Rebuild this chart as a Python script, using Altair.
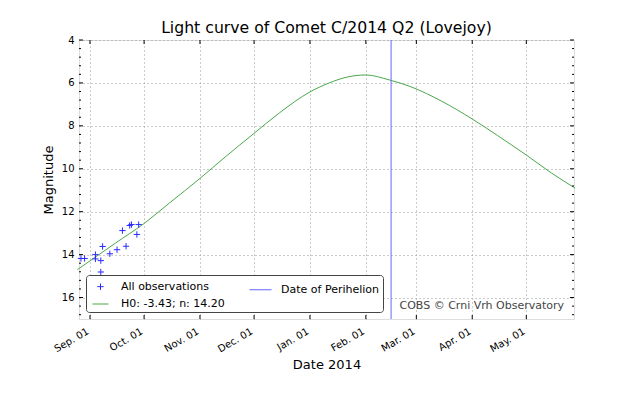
import altair as alt
import pandas as pd

FONT = "DejaVu Sans"

# Observations (date, magnitude)
obs_dates = ["2014-08-27", "2014-08-29", "2014-09-04", "2014-09-04", "2014-09-07",
             "2014-09-07", "2014-09-08", "2014-09-12", "2014-09-16", "2014-09-19",
             "2014-09-21", "2014-09-23", "2014-09-24", "2014-09-27", "2014-09-28"]
obs_mags = [14.18, 14.18, 14.00, 14.20, 14.28,
            14.81, 13.62, 13.96, 13.77, 12.88,
            13.61, 12.64, 12.60, 13.06, 12.60]

# Fitted light curve
curve_dates = ["2014-08-25", "2014-09-15", "2014-10-01", "2014-10-15", "2014-11-01",
               "2014-11-15", "2014-12-01", "2014-12-15", "2015-01-01", "2015-01-12",
               "2015-01-21", "2015-02-01", "2015-02-14", "2015-02-26", "2015-03-15",
               "2015-04-01", "2015-04-15", "2015-05-01", "2015-05-15", "2015-05-28"]
curve_mags = [14.70, 13.47, 12.55, 11.60, 10.45,
              9.45, 8.35, 7.40, 6.42, 5.99,
              5.74, 5.63, 5.86, 6.18, 6.85,
              7.68, 8.45, 9.36, 10.20, 10.90]

perihelion_date = ["2015-02-15"]

series_names = ["All observations", "H0: -3.43; n: 14.20", "Date of Perihelion"]
series_colors = ["#2a2aff", "#4aa84a", "#6666ff"]

month_ticks = ["2014-09-01", "2014-10-01", "2014-11-01", "2014-12-01", "2015-01-01",
               "2015-02-01", "2015-03-01", "2015-04-01", "2015-05-01"]
mag_major = [4, 6, 8, 10, 12, 14, 16]
mag_minor = [4.4, 4.8, 5.2, 5.6, 6.4, 6.8, 7.2, 7.6, 8.4, 8.8, 9.2, 9.6,
             10.4, 10.8, 11.2, 11.6, 12.4, 12.8, 13.2, 13.6, 14.4, 14.8,
             15.2, 15.6, 16.4, 16.8]

W, H = 495, 279


def t(s):
    return s + "T00:00:00"


obs_df = pd.DataFrame({"date": [t(d) for d in obs_dates], "mag": obs_mags,
                       "series": ["All observations"] * len(obs_dates)})
curve_df = pd.DataFrame({"date": [t(d) for d in curve_dates], "mag": curve_mags})
peri_df = pd.DataFrame({"date": [t(d) for d in perihelion_date]})
month_df = pd.DataFrame({"date": [t(d) for d in month_ticks]})
major_df = pd.DataFrame({"mag": mag_major})
minor_df = pd.DataFrame({"mag": mag_minor})

x_scale = alt.Scale(domain=[alt.DateTime(year=2014, month=8, date=25, hours=21, minutes=36),
                            alt.DateTime(year=2015, month=5, date=27, hours=10, minutes=48)])
y_scale = alt.Scale(domain=[4, 17], reverse=True, nice=False, zero=False)

x_axis = alt.Axis(
    values=[alt.DateTime(year=int(d[:4]), month=int(d[5:7]), date=1) for d in month_ticks],
    format="%b. %d", labelAngle=-30, labelAlign="right", labelBaseline="top",
    labelPadding=7, labelOffset=-5, labelFont=FONT, labelFontSize=10, labelColor="black",
    ticks=False, domain=False, grid=True, gridDash=[1, 3], gridColor="#999999",
    gridWidth=1, title="Date 2014", titleFont=FONT, titleFontSize=13,
    titleFontWeight="normal", titleColor="black", titleY=45, titleBaseline="middle",
    labelFlush=False, labelOverlap=False,
)
y_axis = alt.Axis(
    values=mag_major, labelFont=FONT, labelFontSize=10, labelColor="black",
    labelPadding=5, ticks=False, domain=False, grid=True, gridDash=[1, 3],
    gridColor="#999999", gridWidth=1, title="Magnitude", titleFont=FONT,
    titleFontSize=13, titleFontWeight="normal", titleColor="black",
    titleX=-31, titleY=H / 2, titleAngle=-90, titleBaseline="middle", titleAlign="center",
    labelFlush=False,
)

X = alt.X("date:T", scale=x_scale, axis=x_axis)
Y = alt.Y("mag:Q", scale=y_scale, axis=y_axis)

legend = alt.Legend(
    title=None, orient="bottom-left", offset=7, columns=2, padding=3,
    strokeColor="#444444", fillColor="white", cornerRadius=3,
    labelFont=FONT, labelFontSize=11, labelColor="black", labelOffset=9,
    columnPadding=22, rowPadding=-2, symbolStrokeWidth=1,
)

cross_path = "M-1,0H1M0,-1V1"
line_path = "M-1,0H1"

obs = alt.Chart(obs_df).mark_point(filled=False, strokeWidth=1, opacity=1).encode(
    x=X, y=Y,
    color=alt.Color("series:N", scale=alt.Scale(domain=series_names, range=series_colors), legend=legend),
    shape=alt.Shape("series:N", scale=alt.Scale(domain=series_names, range=[cross_path, line_path, line_path]), legend=legend),
    size=alt.Size("series:N", scale=alt.Scale(domain=series_names, range=[40, 484, 484]), legend=legend),
)

curve = alt.Chart(curve_df).mark_line(color="#4aa84a", strokeWidth=1, interpolate="monotone").encode(
    x="date:T", y="mag:Q")

peri = alt.Chart(peri_df).mark_rule(color="#6666ff", strokeWidth=1).encode(x="date:T")

bottom_ticks = alt.Chart(month_df).mark_rule(color="black").encode(
    x="date:T", y=alt.value(H), y2=alt.value(H - 4))
top_ticks = alt.Chart(month_df).mark_rule(color="black").encode(
    x="date:T", y=alt.value(0), y2=alt.value(4))
left_major = alt.Chart(major_df).mark_rule(color="black").encode(
    y="mag:Q", x=alt.value(0), x2=alt.value(4))
right_major = alt.Chart(major_df).mark_rule(color="black").encode(
    y="mag:Q", x=alt.value(W), x2=alt.value(W - 4))
left_minor = alt.Chart(minor_df).mark_rule(color="black").encode(
    y="mag:Q", x=alt.value(0), x2=alt.value(2))
right_minor = alt.Chart(minor_df).mark_rule(color="black").encode(
    y="mag:Q", x=alt.value(W), x2=alt.value(W - 2))

credit = alt.Chart(pd.DataFrame({"txt": ["COBS \u00a9 Crni Vrh Observatory"]})).mark_text(
    align="right", baseline="middle", font=FONT, fontSize=11, color="#444444").encode(
    text="txt:N", x=alt.value(485), y=alt.value(266))

chart = alt.layer(
    curve, obs, peri, bottom_ticks, top_ticks, left_major, right_major,
    left_minor, right_minor, credit
).properties(
    width=W, height=H,
    title=alt.TitleParams("Light curve of Comet C/2014 Q2 (Lovejoy)", font=FONT,
                          fontSize=15.7, fontWeight="normal", color="black",
                          anchor="middle", offset=-2),
    autosize=alt.AutoSizeParams(type="none"),
    padding={"left": 71, "top": 32, "right": 58, "bottom": 73},
).configure_view(stroke="black", strokeWidth=1).configure(background="white")

chart.save("out.html", embed_options={"renderer": "svg", "actions": False})
